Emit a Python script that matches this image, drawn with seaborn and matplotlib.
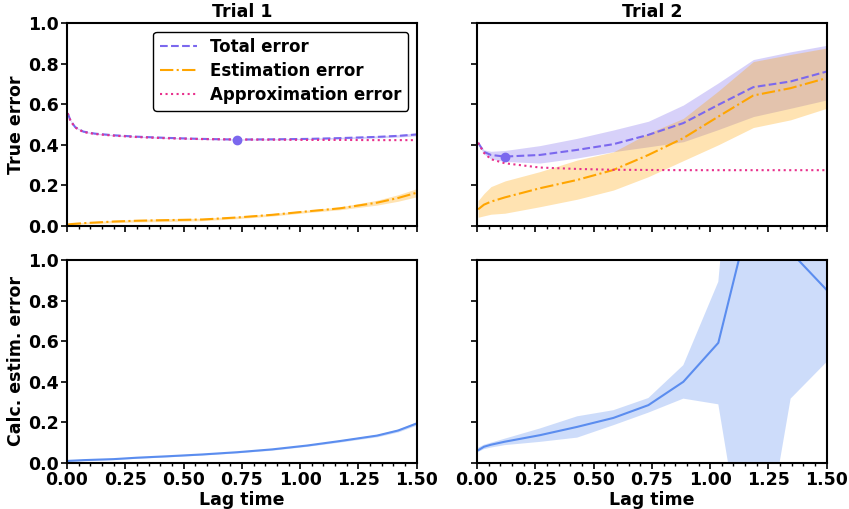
import numpy as np
import matplotlib
matplotlib.use('Agg')
import matplotlib.pyplot as plt
from matplotlib.ticker import MultipleLocator
import seaborn as sns

# ==========================================
# 1. DATOS
# ==========================================
# Trial 1
lag_t1 = [0.003, 0.015, 0.035, 0.07, 0.12, 0.2, 0.3, 0.43, 0.58, 0.73, 0.88, 1.03, 1.17, 1.33, 1.42, 1.5]
total_t1 = [0.556, 0.52, 0.487, 0.465, 0.455, 0.447, 0.44, 0.434, 0.429, 0.426, 0.427, 0.429, 0.433, 0.439, 0.444, 0.451]
total_t1_lo = [0.553, 0.517, 0.484, 0.462, 0.452, 0.444, 0.437, 0.431, 0.426, 0.423, 0.424, 0.426, 0.429, 0.434, 0.438, 0.444]
total_t1_hi = [0.559, 0.523, 0.49, 0.468, 0.458, 0.45, 0.443, 0.437, 0.432, 0.429, 0.43, 0.432, 0.437, 0.444, 0.45, 0.458]
est_t1 = [0.007, 0.009, 0.011, 0.014, 0.017, 0.022, 0.026, 0.029, 0.032, 0.042, 0.055, 0.072, 0.087, 0.115, 0.138, 0.164]
est_t1_lo = [0.004, 0.006, 0.007, 0.01, 0.012, 0.016, 0.02, 0.022, 0.026, 0.036, 0.049, 0.066, 0.08, 0.103, 0.122, 0.144]
est_t1_hi = [0.01, 0.012, 0.015, 0.018, 0.022, 0.028, 0.032, 0.036, 0.038, 0.048, 0.061, 0.078, 0.094, 0.127, 0.154, 0.184]
approx_t1 = [0.555, 0.518, 0.485, 0.463, 0.453, 0.445, 0.438, 0.432, 0.428, 0.426, 0.425, 0.424, 0.424, 0.423, 0.423, 0.423]
calc_t1 = [0.01, 0.011, 0.012, 0.014, 0.016, 0.019, 0.026, 0.033, 0.042, 0.053, 0.067, 0.086, 0.108, 0.135, 0.16, 0.195]
calc_t1_lo = [0.008, 0.009, 0.01, 0.012, 0.014, 0.017, 0.023, 0.03, 0.039, 0.05, 0.063, 0.082, 0.103, 0.129, 0.153, 0.187]
calc_t1_hi = [0.012, 0.013, 0.014, 0.016, 0.018, 0.021, 0.029, 0.036, 0.045, 0.056, 0.071, 0.09, 0.113, 0.141, 0.167, 0.203]

# Trial 2
lag_t2 = [0.005, 0.03, 0.06, 0.12, 0.27, 0.43, 0.585, 0.735, 0.885, 1.035, 1.185, 1.345, 1.5]
total_t2 = [0.41, 0.365, 0.35, 0.342, 0.35, 0.375, 0.403, 0.449, 0.507, 0.597, 0.684, 0.712, 0.761]
total_t2_lo = [0.405, 0.355, 0.33, 0.318, 0.31, 0.335, 0.366, 0.39, 0.415, 0.475, 0.539, 0.58, 0.621]
total_t2_hi = [0.415, 0.375, 0.368, 0.372, 0.396, 0.432, 0.473, 0.516, 0.596, 0.705, 0.82, 0.858, 0.89]
est_t2 = [0.082, 0.105, 0.12, 0.141, 0.186, 0.227, 0.276, 0.35, 0.433, 0.539, 0.643, 0.679, 0.729]
est_t2_lo = [0.043, 0.05, 0.058, 0.063, 0.095, 0.132, 0.177, 0.243, 0.322, 0.4, 0.485, 0.523, 0.58]
est_t2_hi = [0.125, 0.16, 0.194, 0.222, 0.268, 0.325, 0.365, 0.457, 0.53, 0.665, 0.81, 0.845, 0.877]
approx_t2 = [0.41, 0.36, 0.329, 0.309, 0.288, 0.281, 0.277, 0.276, 0.275, 0.275, 0.275, 0.275, 0.275]
calc_t2 = [0.0625, 0.08, 0.09, 0.105, 0.137, 0.178, 0.222, 0.285, 0.40, 0.592, 1.29, 1.04, 0.852]
calc_t2_lo = [0.054, 0.068, 0.076, 0.088, 0.104, 0.125, 0.186, 0.248, 0.317, 0.289, -0.75, 0.317, 0.498]
calc_t2_hi = [0.075, 0.09, 0.1, 0.12, 0.17, 0.23, 0.26, 0.32, 0.482, 0.893, 2.8, 2.5, 1.8]

titles = ['Trial 1', 'Trial 2']

# Colores
C_TOTAL = '#7B68EE'
C_EST = '#FFA500'
C_APPROX = '#E8308C'
C_CALC = '#5B8DEF'

# ==========================================
# 2. ESTILO
# ==========================================
sns.set_style('ticks')
plt.rcParams['font.family'] = ['DejaVu Sans']
plt.rcParams['font.weight'] = 'bold'
plt.rcParams['axes.labelweight'] = 'bold'
plt.rcParams['axes.titleweight'] = 'bold'
plt.rcParams['axes.linewidth'] = 1.5
plt.rcParams['axes.edgecolor'] = 'black'
plt.rcParams['text.color'] = 'black'
plt.rcParams['axes.labelcolor'] = 'black'
plt.rcParams['xtick.color'] = 'black'
plt.rcParams['ytick.color'] = 'black'

fig = plt.figure(figsize=(8.49, 5.09), dpi=100)
L = [0.0789, 0.5618]
B = [0.556, 0.0904]
W, H = 0.412, 0.3988
axes = [[fig.add_axes([L[c], B[r], W, H]) for c in range(2)] for r in range(2)]

trials = [
    dict(lag=lag_t1, tot=total_t1, tlo=total_t1_lo, thi=total_t1_hi,
         est=est_t1, elo=est_t1_lo, ehi=est_t1_hi, app=approx_t1,
         calc=calc_t1, clo=calc_t1_lo, chi=calc_t1_hi),
    dict(lag=lag_t2, tot=total_t2, tlo=total_t2_lo, thi=total_t2_hi,
         est=est_t2, elo=est_t2_lo, ehi=est_t2_hi, app=approx_t2,
         calc=calc_t2, clo=calc_t2_lo, chi=calc_t2_hi),
]

# ==========================================
# 3. DIBUJO
# ==========================================
for c, d in enumerate(trials):
    ax = axes[0][c]
    ax.fill_between(d['lag'], d['tlo'], d['thi'], color=C_TOTAL, alpha=0.3, lw=0)
    ax.fill_between(d['lag'], d['elo'], d['ehi'], color=C_EST, alpha=0.3, lw=0)
    sns.lineplot(x=d['lag'], y=d['tot'], ax=ax, color=C_TOTAL, linestyle='--',
                 lw=1.5, label='Total error')
    sns.lineplot(x=d['lag'], y=d['est'], ax=ax, color=C_EST, linestyle='-.',
                 lw=1.5, label='Estimation error')
    sns.lineplot(x=d['lag'], y=d['app'], ax=ax, color=C_APPROX, linestyle=':',
                 lw=1.5, label='Approximation error')
    i_min = int(np.argmin(d['tot']))
    ax.plot(d['lag'][i_min], d['tot'][i_min], 'o', color=C_TOTAL, ms=6)
    ax.set_title(titles[c], fontsize=12.5, pad=4)

    ax2 = axes[1][c]
    ax2.fill_between(d['lag'], d['clo'], d['chi'], color=C_CALC, alpha=0.3, lw=0)
    sns.lineplot(x=d['lag'], y=d['calc'], ax=ax2, color=C_CALC, lw=1.5)

for r in range(2):
    for c in range(2):
        ax = axes[r][c]
        ax.set_xlim(0, 1.5)
        ax.set_ylim(0, 1.0)
        ax.xaxis.set_major_locator(MultipleLocator(0.25))
        ax.xaxis.set_minor_locator(MultipleLocator(0.05))
        ax.yaxis.set_major_locator(MultipleLocator(0.2))
        ax.tick_params(axis='both', which='major', direction='out', length=4, width=1.2,
                       labelsize=12.5, color='black', labelcolor='black', pad=2)
        ax.tick_params(axis='x', which='minor', direction='out', length=2, width=1.0)
        for s in ax.spines.values():
            s.set_color('black')
            s.set_linewidth(1.5)
        ax.set_xlabel('')
        ax.set_ylabel('')
        if r == 0:
            ax.set_xticklabels([])
        else:
            ax.set_xlabel('Lag time', fontsize=12.5, labelpad=1)
        if c == 1:
            ax.set_yticklabels([])
        leg = ax.get_legend()
        if leg is not None:
            leg.remove()

axes[0][0].set_ylabel('True error', fontsize=12.5, labelpad=2)
axes[1][0].set_ylabel('Calc. estim. error', fontsize=12.5, labelpad=2)

leg = axes[0][0].legend(loc='upper right', bbox_to_anchor=(0.975, 0.958), borderaxespad=0,
                        prop={'size': 12, 'weight': 'bold'}, labelspacing=0.35,
                        handlelength=2.2, frameon=True, framealpha=1, edgecolor='black')
leg.get_frame().set_linewidth(1.0)

fig.savefig('out.png', dpi=100)
